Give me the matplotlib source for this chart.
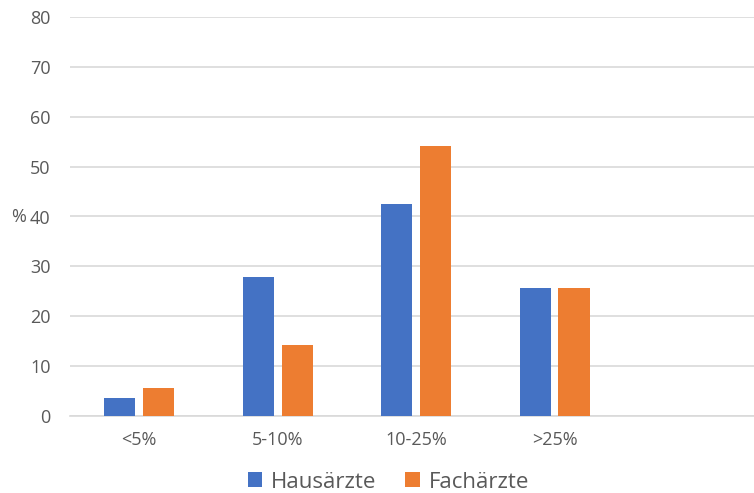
import matplotlib
matplotlib.use("Agg")
import matplotlib.pyplot as plt
import numpy as np

categories = ["<5%", "5-10%", "10-25%", ">25%"]
hausaerzte = [3.6, 27.9, 42.5, 25.6]
fachaerzte = [5.6, 14.2, 54.2, 25.7]
series_names = ["Hausärzte", "Fachärzte"]
yticks = [0, 10, 20, 30, 40, 50, 60, 70, 80]

plt.rcParams['font.family'] = ['Open Sans', 'DejaVu Sans']
txt = '#595959'
grid = '#D9D9D9'

fig = plt.figure(figsize=(7.54, 4.93), dpi=100)
ax = fig.add_axes([70/754, 1-416/493, 1-70/754, (416-17)/493])

x = np.arange(len(categories))
w = 0.224
off = 0.14
ax.bar(x - off, hausaerzte, w, color='#4472C4', label=series_names[0], zorder=3)
ax.bar(x + off, fachaerzte, w, color='#ED7D31', label=series_names[1], zorder=3)

ax.set_xlim(-0.5, 4.44)
ax.set_ylim(0, 80)
ax.set_yticks(yticks)
ax.set_xticks(x)
ax.set_xticklabels(categories)
ax.yaxis.grid(True, color=grid, lw=1.2, zorder=0)
for s in ['top', 'right', 'left']:
    ax.spines[s].set_visible(False)
ax.spines['bottom'].set_color(grid)
ax.spines['bottom'].set_linewidth(1.2)
ax.tick_params(axis='both', length=0, colors=txt, labelsize=13)
ax.tick_params(axis='y', pad=14)
ax.tick_params(axis='x', pad=11)
ax.set_ylabel('%', rotation=0, color=txt, fontsize=13, va='center')
ax.yaxis.set_label_coords(-0.075, 0.5)

fig.legend(loc='center', bbox_to_anchor=(0.515, 1-482/493), ncol=2, frameon=False,
           fontsize=16, labelcolor=txt, handlelength=0.65, handleheight=0.65,
           columnspacing=1.3, handletextpad=0.4)

fig.savefig('out.png', dpi=100)
